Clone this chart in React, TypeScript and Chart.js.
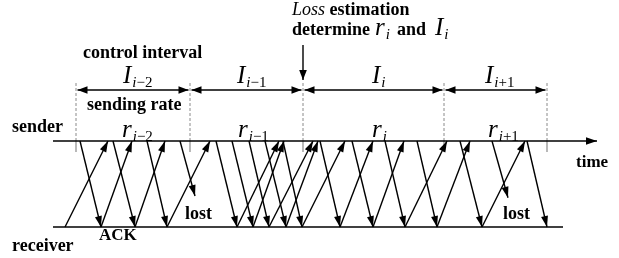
import React, { useEffect, useRef } from "react";
import { Chart, registerables } from "chart.js";

Chart.register(...registerables);

// ---- data (times along the time axis) ----
const timeStart = 53;
const senderEnd = 597;
const receiverEnd = 563;
const intervalBounds = [76, 190, 303, 444, 547];
const intervalSubs = ["i−2", "i−1", "i", "i+1"];
const sendTimes = [80, 113, 147, 216, 232, 249, 265, 283, 320, 352, 385, 417, 460, 527];
const recvTimes = [101, 135, 167, 237, 253, 269, 286, 302, 340, 373, 405, 437, 482, 547];
const lostSendTimes = [180, 492];
const lostTimes = [195, 508];
const lostDepth = [0.64, 0.66];
const ackSendTimes = [65, 101, 135, 167, 237, 253, 269, 286, 302, 340, 373, 405, 437, 482];
const ackRecvTimes = [108, 132, 165, 210, 279, 284, 313, 318, 345, 373, 404, 447, 470, 525];
const estimationTime = 303;

// ---- layout ----
const W = 619;
const H = 258;
const SENDER_Y = 141;
const RECEIVER_Y = 227;
const INTERVAL_Y = 90;
const DASH_TOP = 83;
const TICK_BOTTOM = 152;
const EST_TOP = 45;
const EST_TIP = 80;
const I_LEFTS = [123, 237, 372, 485];
const R_LEFTS = [122, 238, 372, 488];
const SERIF = "'Liberation Serif', 'Times New Roman', serif";

type Run = { t: string; font: string; dy?: number; dx?: number };

function drawRuns(ctx: CanvasRenderingContext2D, x: number, y: number, runs: Run[]) {
  let cx = x;
  for (const r of runs) {
    ctx.font = r.font;
    cx += r.dx || 0;
    ctx.fillText(r.t, cx, y + (r.dy || 0));
    cx += ctx.measureText(r.t).width;
  }
  return cx;
}

function mathRuns(base: string, sub: string, size = 25, subSize = 15): Run[] {
  const runs: Run[] = [{ t: base, font: `italic ${size}px ${SERIF}` }];
  let first = true;
  for (const ch of sub) {
    const isLetter = /[a-z]/i.test(ch);
    runs.push({
      t: ch,
      font: `${isLetter ? "italic " : ""}${subSize}px ${SERIF}`,
      dy: 4,
      dx: first ? 1 : 0,
    });
    first = false;
  }
  return runs;
}

function arrowHead(ctx: CanvasRenderingContext2D, fx: number, fy: number, tx: number, ty: number, len = 11, half = 3.5) {
  const a = Math.atan2(ty - fy, tx - fx);
  const c = Math.cos(a), s = Math.sin(a);
  const bx = tx - len * c, by = ty - len * s;
  ctx.beginPath();
  ctx.moveTo(tx, ty);
  ctx.lineTo(bx - half * s, by + half * c);
  ctx.lineTo(bx + half * s, by - half * c);
  ctx.closePath();
  ctx.fill();
}

const arrowPlugin = {
  id: "arrowHeads",
  afterDatasetsDraw(chart: any) {
    const ctx: CanvasRenderingContext2D = chart.ctx;
    ctx.save();
    ctx.fillStyle = "#000";
    chart.data.datasets.forEach((ds: any, i: number) => {
      const pts = chart.getDatasetMeta(i).data;
      if (pts.length < 2) return;
      const p0 = pts[0], p1 = pts[pts.length - 1];
      const len = ds.headLen || 11;
      const half = ds.headHalf || 3.5;
      if (ds.arrowEnd) arrowHead(ctx, p0.x, p0.y, p1.x, p1.y, len, half);
      if (ds.arrowStart) arrowHead(ctx, p1.x, p1.y, p0.x, p0.y, len, half);
    });
    ctx.restore();
  },
};

const textPlugin = {
  id: "labels",
  afterDraw(chart: any) {
    const ctx: CanvasRenderingContext2D = chart.ctx;
    ctx.save();
    ctx.fillStyle = "#000";
    ctx.textBaseline = "alphabetic";
    ctx.textAlign = "left";
    const bold18 = `bold 18px ${SERIF}`;
    const bold17 = `bold 17px ${SERIF}`;
    drawRuns(ctx, 83, 58, [{ t: "control interval", font: bold18 }]);
    drawRuns(ctx, 87, 110, [{ t: "sending rate", font: bold18 }]);
    drawRuns(ctx, 12, 132, [{ t: "sender", font: bold18 }]);
    drawRuns(ctx, 12, 251, [{ t: "receiver", font: bold18 }]);
    drawRuns(ctx, 99, 240, [{ t: "ACK", font: bold17 }]);
    drawRuns(ctx, 185, 219, [{ t: "lost", font: bold18 }]);
    drawRuns(ctx, 503, 219, [{ t: "lost", font: bold18 }]);
    drawRuns(ctx, 576, 167, [{ t: "time", font: bold17 }]);
    drawRuns(ctx, 292, 15, [
      { t: "Loss", font: `italic 18px ${SERIF}` },
      { t: " estimation", font: bold18 },
    ]);
    drawRuns(ctx, 292, 35, [{ t: "determine", font: bold18 }]);
    drawRuns(ctx, 375, 35, mathRuns("r", "i"));
    drawRuns(ctx, 397, 35, [{ t: "and", font: bold18 }]);
    drawRuns(ctx, 435, 35, mathRuns("I", "i"));
    intervalSubs.forEach((sub, k) => {
      drawRuns(ctx, I_LEFTS[k], 83, mathRuns("I", sub));
      drawRuns(ctx, R_LEFTS[k], 137, mathRuns("r", sub));
    });
    ctx.restore();
  },
};

function line(points: { x: number; y: number }[], extra: any = {}) {
  return {
    data: points,
    showLine: true,
    borderColor: "#000",
    backgroundColor: "#000",
    borderWidth: 1.4,
    pointRadius: 0,
    pointHoverRadius: 0,
    fill: false,
    tension: 0,
    clip: false,
    ...extra,
  };
}

export default function App() {
  const ref = useRef<HTMLCanvasElement>(null);
  useEffect(() => {
    if (!ref.current) return;
    const datasets: any[] = [];
    // axes
    datasets.push(line([{ x: timeStart, y: SENDER_Y }, { x: senderEnd, y: SENDER_Y }], { arrowEnd: true, headLen: 11, headHalf: 3.8 }));
    datasets.push(line([{ x: timeStart, y: RECEIVER_Y }, { x: receiverEnd, y: RECEIVER_Y }]));
    // interval boundaries
    intervalBounds.forEach((b) => {
      datasets.push(line([{ x: b, y: DASH_TOP }, { x: b, y: SENDER_Y }], { borderColor: "#8a8a8a", borderWidth: 1, borderDash: [3, 2] }));
      datasets.push(line([{ x: b, y: SENDER_Y }, { x: b, y: TICK_BOTTOM }], { borderColor: "#8a8a8a", borderWidth: 1.2 }));
    });
    for (let k = 0; k < intervalBounds.length - 1; k++) {
      datasets.push(
        line([{ x: intervalBounds[k] + 1.5, y: INTERVAL_Y }, { x: intervalBounds[k + 1] - 1.5, y: INTERVAL_Y }], {
          arrowEnd: true,
          arrowStart: true,
          headLen: 10,
          headHalf: 3.8,
        })
      );
    }
    // estimation arrow
    datasets.push(line([{ x: estimationTime, y: EST_TOP }, { x: estimationTime, y: EST_TIP }], { arrowEnd: true, headLen: 10, headHalf: 3.8 }));
    // packets
    sendTimes.forEach((s, k) => {
      datasets.push(line([{ x: s, y: SENDER_Y }, { x: recvTimes[k], y: RECEIVER_Y }], { arrowEnd: true }));
    });
    lostSendTimes.forEach((s, k) => {
      const ly = SENDER_Y + lostDepth[k] * (RECEIVER_Y - SENDER_Y);
      datasets.push(line([{ x: s, y: SENDER_Y }, { x: lostTimes[k], y: ly }], { arrowEnd: true }));
    });
    ackSendTimes.forEach((s, k) => {
      datasets.push(line([{ x: s, y: RECEIVER_Y }, { x: ackRecvTimes[k], y: SENDER_Y }], { arrowEnd: true }));
    });

    const chart = new Chart(ref.current, {
      type: "scatter",
      data: { datasets },
      options: {
        animation: false,
        responsive: false,
        devicePixelRatio: 1,
        events: [],
        layout: { padding: 0 },
        plugins: { legend: { display: false }, tooltip: { enabled: false }, title: { display: false } },
        scales: {
          x: { type: "linear", min: 0, max: W, display: false },
          y: { type: "linear", min: 0, max: H, reverse: true, display: false },
        },
      },
      plugins: [arrowPlugin, textPlugin],
    } as any);
    return () => chart.destroy();
  }, []);

  return (
    <div style={{ position: "fixed", left: 0, top: 0, width: W, height: H, background: "#fff" }}>
      <canvas ref={ref} width={W} height={H} style={{ display: "block", width: W, height: H }} />
    </div>
  );
}
